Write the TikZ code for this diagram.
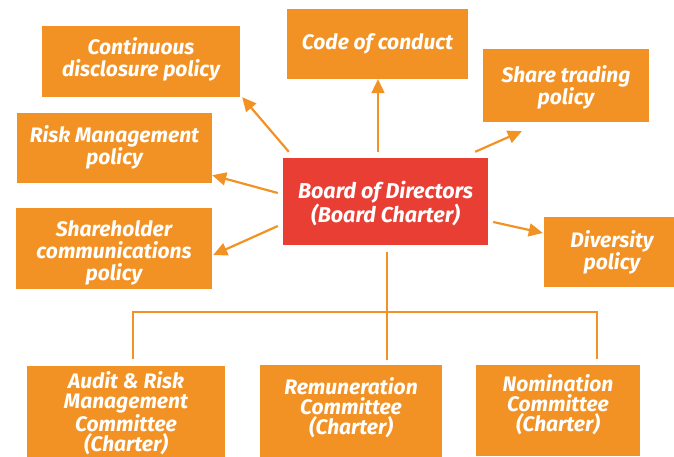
\documentclass[tikz,border=0pt]{standalone}
\usepackage{fontspec}
\setmainfont{Fira Sans}
\usetikzlibrary{arrows.meta}
\definecolor{boxorange}{RGB}{242,146,36}
\definecolor{boardred}{RGB}{232,62,52}
\tikzset{
  box/.style={fill=boxorange, draw=none, inner sep=0pt},
  boardbox/.style={box, fill=boardred},
  lbl/.style={text=white, align=center, inner sep=0pt,
    font=\fontsize{21}{22}\selectfont\bfseries\itshape},
  lowlbl/.style={lbl, font=\fontsize{21}{20}\selectfont\bfseries\itshape},
  boardlbl/.style={lbl, font=\fontsize{21.5}{24}\selectfont\bfseries\itshape},
  arr/.style={draw=boxorange, line width=2.2pt, -{Triangle[length=14pt,width=13pt]}},
  conn/.style={draw=boxorange, line width=2pt}
}
\begin{document}
\begin{tikzpicture}[x=1pt,y=-1pt]
\useasboundingbox (0,0) rectangle (674,457);
\node[box, minimum width=198pt, minimum height=71pt,
  label={[lbl, yshift=2pt]center:{Continuous\\disclosure policy}}] (cont) at (141,61.5) {};
\node[box, minimum width=181pt, minimum height=70pt,
  label={[lbl, yshift=0pt]center:{Code of conduct}}] (code) at (377.5,44) {};
\node[box, minimum width=166pt, minimum height=73pt,
  label={[lbl, yshift=-2pt]center:{Share trading\\policy}}] (share) at (566,85.5) {};
\node[box, minimum width=195pt, minimum height=70pt,
  label={[lbl, yshift=0.5pt]center:{Risk Management\\policy}}] (risk) at (114.5,148) {};
\node[box, minimum width=196pt, minimum height=81pt,
  label={[lbl, yshift=-4.5pt]center:{Shareholder\\communications\\policy}}] (shold) at (114,248.5) {};
\node[boardbox, minimum width=205pt, minimum height=87pt,
  label={[boardlbl, yshift=-2pt]center:{Board of Directors\\(Board Charter)}}] (board) at (385.5,201.5) {};
\node[box, minimum width=136pt, minimum height=70pt,
  label={[lbl, yshift=0pt]center:{Diversity\\policy}}] (div) at (612,252) {};
\node[box, minimum width=198pt, minimum height=92pt,
  label={[lowlbl, yshift=-1.5pt]center:{Audit \& Risk\\Management\\Committee\\(Charter)}}] (audit) at (126,412) {};
\node[box, minimum width=182pt, minimum height=92pt,
  label={[lowlbl, yshift=3pt]center:{Remuneration\\Committee\\(Charter)}}] (remun) at (351,411) {};
\node[box, minimum width=164pt, minimum height=91pt,
  label={[lowlbl, yshift=5.5pt]center:{Nomination\\Committee\\(Charter)}}] (nom) at (558,410.5) {};
% arrows
\draw[arr] ([xshift=6pt,yshift=6pt]board.north west) -- ([xshift=2pt]cont.south east);
\draw[arr] ([xshift=-5pt,yshift=8.5pt]board.west) -- ([yshift=8pt]risk.south east);
\draw[arr] ([xshift=-5pt,yshift=-24.5pt]board.west) -- ([xshift=1pt,yshift=-6.5pt]shold.east);
\draw[arr] ([xshift=-7.5pt,yshift=6pt]board.north) -- ([xshift=0.5pt]code.south);
\draw[arr] ([xshift=-13pt,yshift=6pt]board.north east) -- ([xshift=39pt,yshift=-9pt]share.south west);
\draw[arr] ([xshift=5pt,yshift=-20.5pt]board.east) -- ([xshift=-1pt,yshift=19pt]div.west);
% tree
\draw[conn] ([xshift=1.5pt,yshift=-6.5pt]board.south) -- ([xshift=36pt,yshift=5pt]remun.north);
\draw[conn] ([xshift=7pt,yshift=7pt]audit.north) -- ++(0,-47) -| ([xshift=39pt,yshift=6pt]nom.north);
\end{tikzpicture}
\end{document}
